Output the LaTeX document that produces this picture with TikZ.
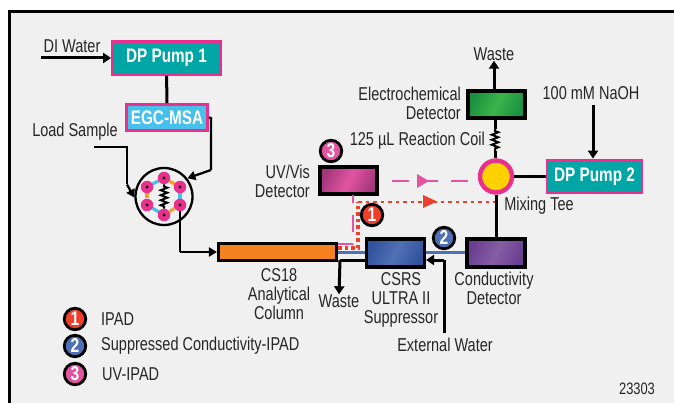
\documentclass[tikz,border=0pt]{standalone}
\usepackage{fontspec}
\setmainfont[FakeStretch=0.78]{Liberation Sans}
\usepackage{xcolor}
\usetikzlibrary{arrows.meta,decorations.pathmorphing}
\definecolor{panelgray}{RGB}{240,240,240}
\definecolor{pumpteal}{RGB}{0,165,165}
\definecolor{framepink}{RGB}{232,48,140}
\definecolor{egcblue}{RGB}{72,192,236}
\definecolor{portorange}{RGB}{245,160,40}
\definecolor{columnorange}{RGB}{245,130,32}
\definecolor{tubeblue}{RGB}{80,112,182}
\definecolor{dotred}{RGB}{238,62,44}
\definecolor{dashpink}{RGB}{226,84,160}
\definecolor{teeyellow}{RGB}{255,209,0}
\definecolor{darkblue}{RGB}{50,82,158}
\definecolor{lightpurple}{RGB}{134,94,164}
\definecolor{darkpurple}{RGB}{106,62,146}
\definecolor{lightgreen}{RGB}{57,181,74}
\definecolor{darkgreen}{RGB}{26,145,64}
\definecolor{darkpink}{RGB}{165,55,125}
\tikzset{
 pumpbox/.style={draw=framepink,fill=pumpteal,line width=2.8pt,text=white,
  font=\fontsize{19.6}{21}\selectfont\bfseries,inner sep=0pt},
 unitbox/.style={draw=black,line width=3.1pt,inner sep=0pt},
 bandfill/.style 2 args={left color=#1,right color=#1,middle color=#2,shading angle=65},
 pipe/.style={line width=3pt},
 thinpipe/.style={line width=2.3pt},
 flow/.style={pipe,-{Triangle[length=8pt,width=10pt]}},
 thinflow/.style={thinpipe,-{Triangle[length=8pt,width=9pt]}},
 coil/.style={line width=2pt,decorate,
  decoration={zigzag,amplitude=3.2pt,segment length=5pt,pre length=2pt,post length=2pt}},
 plain/.style={inner sep=0pt,align=center},
 badge/.style={circle,draw=black,line width=2.8pt,minimum size=21.5pt,inner sep=0pt,
  text=white,font=\fontsize{20}{20}\selectfont\bfseries},
 port/.style={circle,fill=framepink,minimum size=12.5pt,inner sep=0pt},
 link/.style={egcblue,line width=3.2pt},
 stub/.style={portorange,line width=3.2pt,shorten >=6.5pt,shorten <=6.5pt},
}
\begin{document}
\begin{tikzpicture}[x=1pt,y=-1pt,
 every node/.style={font=\fontsize{18.6}{19}\selectfont,text=black!85}]
 \useasboundingbox (0,0) rectangle (674,403);
 \fill[panelgray] (9,12) rectangle (674,403);
 \draw[line width=3pt] (9,403)--(9,12)--(674,12);

 % pump side
 \node[pumpbox,minimum width=108pt,minimum height=33pt] (pumpa) at (166.5,58) {DP Pump 1};
 \node[pumpbox,fill=egcblue,minimum width=81pt,minimum height=26pt] (egc) at (167,117.5) {EGC-MSA};
 \node[plain] (diwater) at (72,46) {DI Water};
 \coordinate (distart) at (41,58);
 \draw[flow] (distart)--(pumpa.west);
 \draw[pipe] (pumpa)--(egc);

 % injection valve
 \node[circle,draw=black,line width=2.3pt,minimum size=57pt,inner sep=0pt] (valve) at (164,196.5) {};
 \foreach \n/\px/\py in {a/147/187,b/164/178,c/180/187,d/180/205,e/164/215,f/147/205}{
  \coordinate (spot\n) at (\px,\py);
 }
 \draw[link] (spota)--(spotb);
 \draw[link] (spotc)--(spotd);
 \draw[link] (spotf)--(spote);
 \draw[stub] (spotb)--(spotc);
 \draw[stub] (spota)--(spotf);
 \draw[stub] (spote)--(spotd);
 \foreach \n in {a,...,f}{
  \node[port] (port\n) at (spot\n) {};
  \fill (port\n) circle (1.7);
 }
 \draw[coil] (portb)--(porte);
 \node[plain] (loadsample) at (75,132) {Load Sample};
 \coordinate (loadstart) at (94,147);
 \coordinate (loadbend) at (127,147);
 \coordinate (loadin) at (127,184.5);
 \draw[thinpipe] (loadstart)--(loadbend)--(loadin);
 \draw[thinflow] (loadin)--(valve.182);
 \coordinate (egcout) at (211,118);
 \coordinate (egcbend) at (211,170);
 \draw[thinpipe] (egc.east)--(egcout)--(egcbend);
 \draw[thinflow] (egcbend)--(valve.38);

 % column and suppressor
 \node[unitbox,fill=columnorange,minimum width=118pt,minimum height=17pt] (column) at (277.5,252) {};
 \node[plain] (columntext) at (279,294) {CS18\\Analytical\\Column};
 \coordinate (valvebend) at (portd |- column);
 \draw[thinpipe] (portd)--(valvebend);
 \draw[thinflow] (valvebend)--(column.west);
 \coordinate (csrsspot) at (395.5,253);
 \coordinate (cdspot) at (496,253);
 \coordinate (bluein) at (column.east |- csrsspot);
 \draw[tubeblue,line width=3pt] (bluein)--(cdspot);
 \node[unitbox,bandfill={darkblue}{tubeblue},minimum width=58pt,minimum height=28pt] (csrs) at (csrsspot) {};
 \node[unitbox,bandfill={darkpurple}{lightpurple},minimum width=58pt,minimum height=28pt] (conductivity) at (cdspot) {};
 \node[plain] (csrstext) at (401,300) {CSRS\\ULTRA II\\Suppressor};
 \node[plain] (conductivitytext) at (494,288.5) {Conductivity\\Detector};
 \node[plain] (wastelow) at (339,301) {Waste};
 \coordinate (wastebend) at (340,260);
 \draw[pipe] (csrs.west |- wastebend)--(wastebend);
 \draw[flow] (wastebend)--(wastelow.north);
 \node[plain] (externalwater) at (445,345) {External Water};
 \coordinate (extbend) at (444,260);
 \coordinate (extstart) at (444,333);
 \draw[pipe] (extstart)--(extbend);
 \draw[flow] (extbend)--(csrs.east |- extbend);

 % post column side
 \node[circle,draw=framepink,fill=teeyellow,line width=4.4pt,minimum size=32pt,inner sep=0pt] (tee) at (496,176.5) {};
 \draw[pipe] (conductivity)--(tee);
 \node[plain] (teetext) at (539,206) {Mixing Tee};
 \node[pumpbox,minimum width=95pt,minimum height=33pt] (pumpb) at (594.5,176.5) {DP Pump 2};
 \draw[pipe] (tee)--(pumpb);
 \node[plain] (naoh) at (591,93) {100 mM NaOH};
 \coordinate (naohstart) at (593,105);
 \draw[flow] (naohstart)--(pumpb.north -| naohstart);
 \node[unitbox,bandfill={darkgreen}{lightgreen},minimum width=57pt,minimum height=27pt] (ecd) at (496.5,104.5) {};
 \node[plain,align=right,anchor=east] (ecdtext) at (461,103) {Electrochemical\\Detector};
 \node[plain] (wastetop) at (494,54) {Waste};
 \coordinate (ecdout) at (494,90);
 \draw[flow] (ecdout)--(wastetop.south);
 \coordinate (coiltop) at (495,129);
 \coordinate (coilend) at (495,151);
 \draw[pipe] (coiltop |- ecd.south)--(coiltop);
 \draw[coil] (coiltop)--(coilend);
 \draw[pipe] (coilend)--(tee.north -| coilend);
 \node[plain,anchor=east] (coiltext) at (485,141) {125 \textmu L Reaction Coil};

 % uv detector with the two signal paths
 \node[unitbox,bandfill={darkpink}{dashpink},minimum width=57pt,minimum height=27pt] (uvvis) at (348.5,180.5) {};
 \node[plain,align=right,anchor=east] (uvvistext) at (310,181) {UV/Vis\\Detector};
 \coordinate (dashstart) at (392,181);
 \coordinate (dashend) at (468,181);
 \draw[dashpink,line width=2.4pt,dash pattern=on 17pt off 8pt on 21pt off 13pt on 17pt] (dashstart)--(dashend);
 \fill[dashpink] (417,174)--(429,181)--(417,188)--cycle;
 \coordinate (uvdown) at (353,195);
 \coordinate (uvbend) at (353,244);
 \draw[dashpink,line width=2.2pt,dash pattern=on 8pt off 12pt on 17pt off 12pt on 16pt] (uvdown)--(uvbend)--(column.east |- uvbend);
 \coordinate (redstart) at (338,248);
 \coordinate (redbend) at (358,248);
 \coordinate (redcorner) at (358,202);
 \coordinate (redend) at (495,202);
 \draw[dotred,line width=3.6pt,dash pattern=on 3.5pt off 3pt] (redstart)--(redbend)--(redcorner);
 \draw[dotred,line width=2.6pt,dash pattern=on 3.5pt off 4pt] (redcorner)--(redend);
 \fill[dotred] (423,195)--(437,201.5)--(423,208)--cycle;

 % badges and legend
 \node[badge,fill=dotred] (badgeone) at (372,215) {1};
 \node[badge,fill=tubeblue] (badgetwo) at (444,238) {2};
 \node[badge,fill=dashpink] (badgethree) at (331,151) {3};
 \foreach \n/\y/\c/\t/\xx in {1/319/dotred/IPAD/101,2/346/tubeblue/Suppressed Conductivity-IPAD/101,3/374/dashpink/UV-IPAD/102}{
  \node[badge,fill=\c] (legend\n) at (75,\y) {\n};
  \node[plain,anchor=west] (legendtext\n) at (\xx,\y) {\t};
 }
 \node[plain,font=\fontsize{16.5}{18}\selectfont] (figno) at (637,389) {23303};
\end{tikzpicture}
\end{document}
